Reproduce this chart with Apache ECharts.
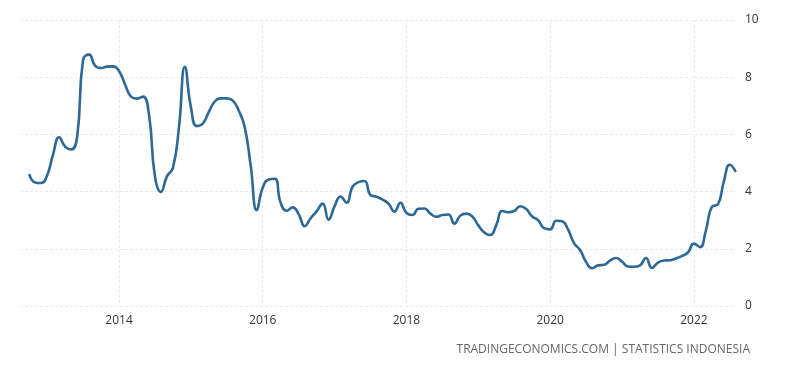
<!DOCTYPE html>
<html>
<head>
<meta charset="utf-8">
<script src="https://cdn.jsdelivr.net/npm/echarts@6/dist/echarts.min.js"></script>
<style>html,body{margin:0;padding:0;background:#fff}#c{width:800px;height:373px}</style>
</head>
<body>
<div id="c"></div>
<script>
var startYear = 2012, startMonth = 10; // Oct 2012
var inflation = [
  4.61, 4.32, 4.30,
  4.57, 5.31, 5.90, 5.57, 5.47, 5.90, 8.61, 8.79, 8.40, 8.32, 8.37, 8.38,
  8.22, 7.75, 7.32, 7.25, 7.32, 6.70, 4.53, 3.99, 4.53, 4.83, 6.23, 8.36,
  6.96, 6.29, 6.38, 6.79, 7.15, 7.26, 7.26, 7.18, 6.83, 6.25, 4.89, 3.35,
  4.14, 4.42, 4.45, 3.60, 3.33, 3.45, 3.21, 2.79, 3.07, 3.31, 3.58, 3.02,
  3.49, 3.83, 3.61, 4.17, 4.33, 4.37, 3.88, 3.82, 3.72, 3.58, 3.30, 3.61,
  3.25, 3.18, 3.40, 3.41, 3.23, 3.12, 3.18, 3.20, 2.88, 3.16, 3.23, 3.13,
  2.82, 2.57, 2.48, 2.83, 3.32, 3.28, 3.32, 3.49, 3.39, 3.13, 3.00, 2.72,
  2.68, 2.98, 2.96, 2.67, 2.19, 1.96, 1.54, 1.32, 1.42, 1.44, 1.59, 1.68,
  1.55, 1.38, 1.37, 1.42, 1.68, 1.33, 1.52, 1.59, 1.60, 1.66, 1.75, 1.87,
  2.18, 2.06, 2.64, 3.47, 3.55, 4.35, 4.94, 4.69
];
var xTickLabels = [2014, 2016, 2018, 2020, 2022];
var yTicks = [0, 2, 4, 6, 8, 10];
var sourceText = 'TRADINGECONOMICS.COM | STATISTICS INDONESIA';

var seriesData = inflation.map(function (v, i) {
  var m = (startMonth - 1) + i;
  return [startYear + m / 12, v];
});

var chart = echarts.init(document.getElementById('c'), null, {renderer: 'canvas'});
var gridStyle = {show: true, lineStyle: {color: '#ebebeb', type: [3, 2], width: 1}};
chart.setOption({
  animation: false,
  backgroundColor: '#ffffff',
  textStyle: {fontFamily: 'Open Sans, sans-serif'},
  grid: {left: 20, right: 63, top: 20, bottom: 67},
  xAxis: {
    type: 'value',
    min: 2012.622,
    max: 2022.6,
    axisLine: {show: false},
    axisTick: {show: false, customValues: xTickLabels},
    axisLabel: {customValues: xTickLabels, color: '#333', fontSize: 12, margin: 9,
      formatter: function (v) { return String(Math.round(v)); }},
    splitLine: gridStyle
  },
  yAxis: {
    type: 'value',
    position: 'right',
    min: 0, max: 10, interval: 2,
    axisLine: {show: false},
    axisTick: {show: false},
    axisLabel: {color: '#333', fontSize: 12, margin: 8},
    splitLine: gridStyle
  },
  series: [{
    type: 'line',
    data: seriesData,
    smooth: 0.5,
    symbol: 'none',
    lineStyle: {color: '#2d6896', width: 2.6},
    z: 5
  }],
  graphic: [{
    type: 'text',
    right: 50, top: 344,
    style: {text: sourceText, fill: '#666', font: '12px "Open Sans", sans-serif'}
  }]
});
</script>
</body>
</html>
